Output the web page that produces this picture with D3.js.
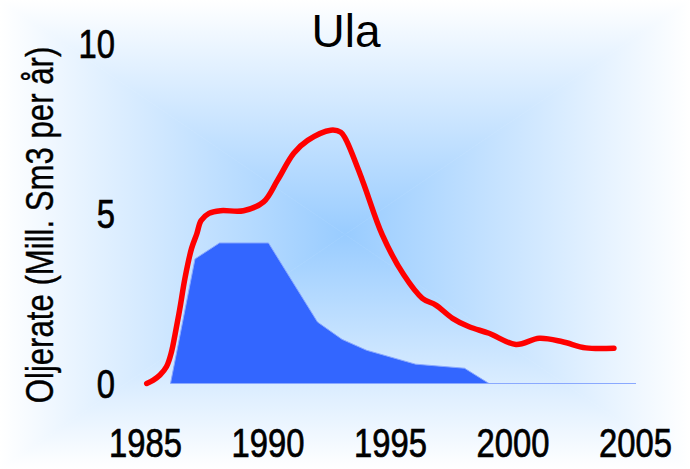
<!DOCTYPE html>
<html>
<head>
<meta charset="utf-8">
<script src="https://cdn.jsdelivr.net/npm/d3@7"></script>
<style>
  html, body { margin: 0; padding: 0; background: #fff; }
  svg { display: block; }
  .narrow { font-family: "Liberation Sans", Arial, sans-serif; fill: #000; stroke: #000; stroke-width: 0.7px; }
</style>
</head>
<body>
<svg id="chart" width="690" height="469"></svg>
<script>
// Ula — oljerate, Mill. Sm3 per år
const title = 'Ula';
const yLabel = 'Oljerate (Mill. Sm3 per år)';
const xTicks = [1985, 1990, 1995, 2000, 2005];
const yTicks = [0, 5, 10];

// rød kurve (faktisk produksjon)
const actualYears = [1985.03, 1985.3, 1985.57, 1985.84, 1986.04, 1986.18, 1986.38, 1986.59, 1986.86, 1987.07,
  1987.25, 1987.57, 1988.04, 1988.98, 1989.8,
  1990.37, 1991.03, 1991.6, 1992.54, 1992.95, 1993.15, 1993.83, 1994.65, 1995.52, 1996.28, 1996.83,
  1997.51, 1998.19, 1999.0, 2000.1, 2001.05, 2002.0, 2002.95, 2004.1];
const actualValues = [0, 0.1, 0.25, 0.5, 0.93, 1.42, 2.2, 3.1, 3.98, 4.4,
  4.8, 5.01, 5.09, 5.09, 5.35,
  5.99, 6.78, 7.16, 7.46, 7.4, 7.2, 5.99, 4.37, 3.2, 2.51, 2.31,
  1.92, 1.67, 1.48, 1.15, 1.33, 1.23, 1.05, 1.04];

// blått felt (opprinnelig prognose)
const planYears = [1986, 1987, 1988, 1990, 1992, 1993, 1994, 1996, 1998, 1999, 2005];
const planValues = [0, 3.67, 4.14, 4.14, 1.81, 1.3, 0.98, 0.57, 0.45, 0, 0];

const W = 690, H = 469;
const svg = d3.select('#chart');

// bakgrunn: rektangulær gradient fra midten
const cx = W / 2, cy = H / 2;
const defs = svg.append('defs');
const tris = [
  { id: 'gT', pts: [[0,0],[W,0],[cx,cy]], x1: 0, y1: 0, x2: 0, y2: cy },
  { id: 'gB', pts: [[0,H],[W,H],[cx,cy]], x1: 0, y1: H, x2: 0, y2: cy },
  { id: 'gL', pts: [[0,0],[0,H],[cx,cy]], x1: 0, y1: 0, x2: cx, y2: 0 },
  { id: 'gR', pts: [[W,0],[W,H],[cx,cy]], x1: W, y1: 0, x2: cx, y2: 0 }
];
tris.forEach(t => {
  const g = defs.append('linearGradient').attr('id', t.id)
    .attr('gradientUnits', 'userSpaceOnUse')
    .attr('x1', t.x1).attr('y1', t.y1).attr('x2', t.x2).attr('y2', t.y2);
  g.append('stop').attr('offset', 0).attr('stop-color', '#ffffff');
  g.append('stop').attr('offset', 1).attr('stop-color', '#99ccff');
});
svg.append('g').selectAll('polygon').data(tris).join('polygon')
  .attr('points', d => d.pts.map(p => p.join(',')).join(' '))
  .attr('fill', d => `url(#${d.id})`)
  .attr('stroke', d => `url(#${d.id})`)
  .attr('stroke-width', 0.6);

const x = d3.scaleLinear().domain([1985, 2005]).range([146, 636]);
const y = d3.scaleLinear().domain([0, 10]).range([383.5, 44]);

// blått felt
const planData = planYears.map((yr, i) => ({ yr, v: planValues[i] }));
const area = d3.area().x(d => x(d.yr)).y0(y(0)).y1(d => y(d.v));
svg.append('path').datum(planData)
  .attr('d', area)
  .attr('fill', '#3366ff')
  .attr('stroke', '#8aa9ff')
  .attr('stroke-width', 1);

// rød linje
const actualData = actualYears.map((yr, i) => ({ yr, v: actualValues[i] }));
const line = d3.line().x(d => x(d.yr)).y(d => y(d.v)).curve(d3.curveCatmullRom.alpha(0.5));
svg.append('path').datum(actualData)
  .attr('d', line)
  .attr('fill', 'none')
  .attr('stroke', '#ff0000')
  .attr('stroke-width', 5.5)
  .attr('stroke-linecap', 'round')
  .attr('stroke-linejoin', 'round');

// akser (kun tekst, smal skrift via horisontal skalering)
const narrow = 0.82;
svg.append('g').selectAll('text').data(yTicks).join('text')
  .attr('class', 'narrow')
  .attr('transform', d => `translate(115,${y(d)}) scale(${narrow},1)`)
  .attr('dy', '0.36em')
  .attr('text-anchor', 'end')
  .style('font-size', '40px')
  .text(d => d);

svg.append('g').selectAll('text').data(xTicks).join('text')
  .attr('class', 'narrow')
  .attr('transform', d => `translate(${x(d) - 0.5},457) scale(${narrow},1)`)
  .attr('text-anchor', 'middle')
  .style('font-size', '40px')
  .text(d => d);

svg.append('text')
  .attr('class', 'narrow')
  .attr('transform', `translate(53,225) rotate(-90) scale(0.82,1)`)
  .attr('text-anchor', 'middle')
  .style('font-size', '38px')
  .style('stroke-width', '0.4px')
  .text(yLabel);

svg.append('text')
  .attr('x', 346).attr('y', 47)
  .attr('text-anchor', 'middle')
  .style('font-family', '"Liberation Sans", Arial, sans-serif')
  .style('font-size', '46px')
  .text(title);
</script>
</body>
</html>
